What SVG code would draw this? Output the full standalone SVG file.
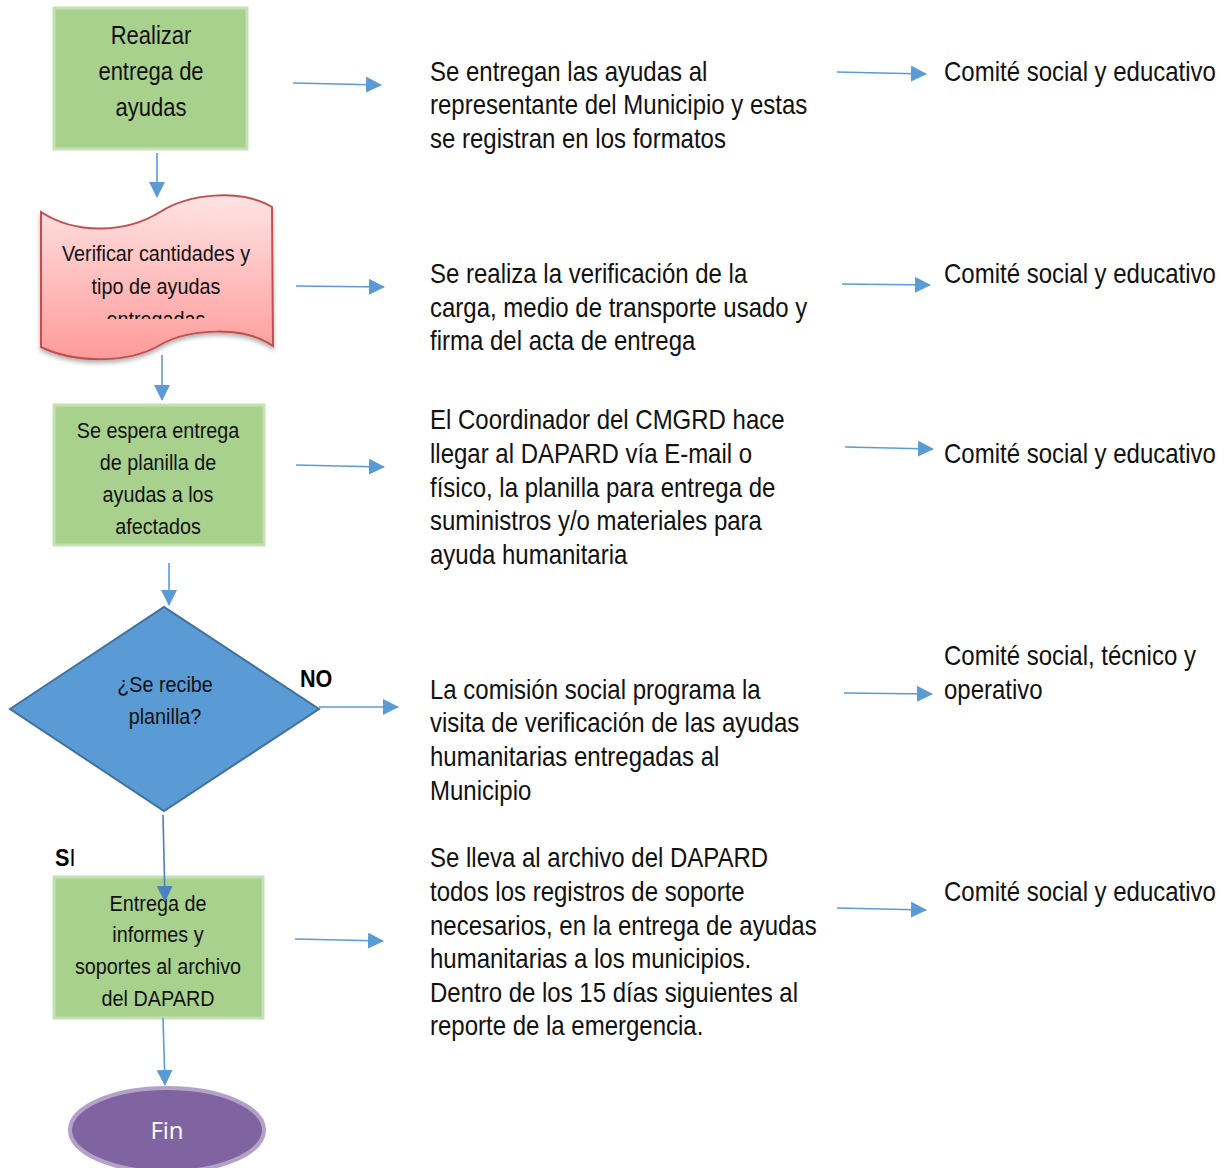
<svg xmlns="http://www.w3.org/2000/svg" width="1225" height="1168" viewBox="0 0 1225 1168">
  <style>
    .box { fill: #a9d18e; stroke: #c5e0b4; stroke-width: 3; }
    .lbl { font-family: "Liberation Sans", Arial, sans-serif; fill: #111; text-anchor: middle; }
    .desc { font-family: "Liberation Sans", Arial, sans-serif; font-size: 28px; fill: #111; }
    .conn { stroke: #5b9bd5; stroke-width: 1.6; fill: none; marker-end: url(#arrow); }
  </style>
  <defs>
    <marker id="arrow" viewBox="0 0 16 16" refX="15" refY="8" markerWidth="16" markerHeight="16" markerUnits="userSpaceOnUse" orient="auto">
      <path d="M0,0 L16,8 L0,16 Z" fill="#5b9bd5"/>
    </marker>
    <marker id="arrowDark" viewBox="0 0 16 16" refX="15" refY="8" markerWidth="16" markerHeight="16" markerUnits="userSpaceOnUse" orient="auto">
      <path d="M0,0 L16,8 L0,16 Z" fill="#4a7fc1"/>
    </marker>
    <linearGradient id="docFill" x1="0" y1="0" x2="0" y2="1">
      <stop offset="0" stop-color="#ffe3e3"/>
      <stop offset="1" stop-color="#ff9a9a"/>
    </linearGradient>
    <filter id="shadow" x="-10%" y="-10%" width="120%" height="130%">
      <feDropShadow dx="0" dy="3" stdDeviation="2" flood-color="#000" flood-opacity="0.3"/>
    </filter>
    <clipPath id="docClip">
      <rect x="40" y="225" width="232" height="94"/>
    </clipPath>
  </defs>

  <rect width="1225" height="1168" fill="#ffffff"/>

  <!-- flow nodes (labels use a condensed horizontal scale) -->
  <g id="n-realizar">
    <rect class="box" x="54" y="8" width="193" height="141"/>
    <g transform="translate(151 0) scale(0.86 1)">
      <text class="lbl" font-size="25.6" x="0" y="44">Realizar</text>
      <text class="lbl" font-size="25.6" x="0" y="80">entrega de</text>
      <text class="lbl" font-size="25.6" x="0" y="116">ayudas</text>
    </g>
  </g>

  <g id="n-verificar">
    <path d="M41,212 C78,236 128,232 160,212 C188,194 240,188 272,207 L273,346 C245,326 190,328 160,345 C130,363 76,364 41,347 Z" fill="url(#docFill)" stroke="#c0504d" stroke-width="2" filter="url(#shadow)"/>
    <g clip-path="url(#docClip)">
      <g transform="translate(156 0) scale(0.88 1)">
        <text class="lbl" font-size="22.5" x="0" y="261">Verificar cantidades y</text>
        <text class="lbl" font-size="22.5" x="0" y="294">tipo de ayudas</text>
        <text class="lbl" font-size="22.5" x="0" y="327">entregadas</text>
      </g>
    </g>
  </g>

  <g id="n-espera">
    <rect class="box" x="54" y="405" width="210" height="140"/>
    <g transform="translate(158 0) scale(0.87 1)">
      <text class="lbl" font-size="22.7" x="0" y="438">Se espera entrega</text>
      <text class="lbl" font-size="22.7" x="0" y="470">de planilla de</text>
      <text class="lbl" font-size="22.7" x="0" y="502">ayudas a los</text>
      <text class="lbl" font-size="22.7" x="0" y="534">afectados</text>
    </g>
  </g>

  <g id="n-decision">
    <polygon points="10,709 164,607 319,709 164,811" fill="#5b9bd5" stroke="#41719c" stroke-width="2"/>
    <g transform="translate(165 0) scale(0.9 1)">
      <text class="lbl" font-size="22" x="0" y="692">¿Se recibe</text>
      <text class="lbl" font-size="22" x="0" y="724">planilla?</text>
    </g>
  </g>

  <g id="n-entrega">
    <rect class="box" x="54" y="877" width="209" height="141"/>
    <g transform="translate(158 0) scale(0.88 1)">
      <text class="lbl" font-size="22.5" x="0" y="911">Entrega de</text>
      <text class="lbl" font-size="22.5" x="0" y="942">informes y</text>
      <text class="lbl" font-size="22.5" x="0" y="974">soportes al archivo</text>
      <text class="lbl" font-size="22.5" x="0" y="1006">del DAPARD</text>
    </g>
  </g>

  <g id="n-fin">
    <ellipse cx="167" cy="1130" rx="97" ry="42" fill="#8064a2" stroke="#b3a2c7" stroke-width="4"/>
    <text x="167" y="1139" font-family="'Open Sans', sans-serif" font-size="24" fill="#ffffff" text-anchor="middle">Fin</text>
  </g>

  <!-- descriptions -->
  <g id="d-1" transform="translate(430 0) scale(0.857 1)">
    <text class="desc" x="0" y="81">Se entregan las ayudas al</text>
    <text class="desc" x="0" y="114">representante del Municipio y estas</text>
    <text class="desc" x="0" y="148">se registran en los formatos</text>
  </g>
  <g id="d-2" transform="translate(430 0) scale(0.857 1)">
    <text class="desc" x="0" y="283">Se realiza la verificación de la</text>
    <text class="desc" x="0" y="317">carga, medio de transporte usado y</text>
    <text class="desc" x="0" y="350">firma del acta de entrega</text>
  </g>
  <g id="d-3" transform="translate(430 0) scale(0.857 1)">
    <text class="desc" x="0" y="429">El Coordinador del CMGRD hace</text>
    <text class="desc" x="0" y="463">llegar al DAPARD vía E-mail o</text>
    <text class="desc" x="0" y="497">físico, la planilla para entrega de</text>
    <text class="desc" x="0" y="530">suministros y/o materiales para</text>
    <text class="desc" x="0" y="564">ayuda humanitaria</text>
  </g>
  <g id="d-4" transform="translate(430 0) scale(0.857 1)">
    <text class="desc" x="0" y="699">La comisión social programa la</text>
    <text class="desc" x="0" y="732">visita de verificación de las ayudas</text>
    <text class="desc" x="0" y="766">humanitarias entregadas al</text>
    <text class="desc" x="0" y="800">Municipio</text>
  </g>
  <g id="d-5" transform="translate(430 0) scale(0.857 1)">
    <text class="desc" x="0" y="867">Se lleva al archivo del DAPARD</text>
    <text class="desc" x="0" y="901">todos los registros de soporte</text>
    <text class="desc" x="0" y="935">necesarios, en la entrega de ayudas</text>
    <text class="desc" x="0" y="968">humanitarias a los municipios.</text>
    <text class="desc" x="0" y="1002">Dentro de los 15 días siguientes al</text>
    <text class="desc" x="0" y="1035">reporte de la emergencia.</text>
  </g>

  <!-- responsible parties -->
  <g id="r-1" transform="translate(944 0) scale(0.857 1)"><text class="desc" x="0" y="81">Comité social y educativo</text></g>
  <g id="r-2" transform="translate(944 0) scale(0.857 1)"><text class="desc" x="0" y="283">Comité social y educativo</text></g>
  <g id="r-3" transform="translate(944 0) scale(0.857 1)"><text class="desc" x="0" y="463">Comité social y educativo</text></g>
  <g id="r-4" transform="translate(944 0) scale(0.857 1)">
    <text class="desc" x="0" y="665">Comité social, técnico y</text>
    <text class="desc" x="0" y="699">operativo</text>
  </g>
  <g id="r-5" transform="translate(944 0) scale(0.857 1)"><text class="desc" x="0" y="901">Comité social y educativo</text></g>

  <!-- branch labels -->
  <text transform="translate(300 0) scale(0.9 1)" x="0" y="687" font-family="'Liberation Sans', Arial, sans-serif" font-size="24" font-weight="bold" fill="#000">NO</text>
  <text transform="translate(55 0) scale(0.9 1)" x="0" y="866" font-family="'Liberation Sans', Arial, sans-serif" font-size="24" fill="#000"><tspan font-weight="bold">S</tspan>I</text>

  <!-- connectors -->
  <g id="connectors">
    <line class="conn" x1="157" y1="153" x2="157" y2="197"/>
    <line class="conn" x1="162" y1="355" x2="162" y2="400"/>
    <line class="conn" x1="169" y1="563" x2="169" y2="605"/>
    <line x1="163" y1="815" x2="165" y2="901" stroke="#4a7fc1" stroke-width="1.6" marker-end="url(#arrowDark)"/>
    <line class="conn" x1="163" y1="1018" x2="165" y2="1085"/>

    <line class="conn" x1="293" y1="83" x2="381" y2="85"/>
    <line class="conn" x1="296" y1="286" x2="384" y2="287"/>
    <line class="conn" x1="296" y1="465" x2="384" y2="467"/>
    <line class="conn" x1="319" y1="707" x2="398" y2="707"/>
    <line class="conn" x1="295" y1="939" x2="383" y2="941"/>

    <line class="conn" x1="837" y1="72" x2="926" y2="74"/>
    <line class="conn" x1="842" y1="284" x2="930" y2="285"/>
    <line class="conn" x1="845" y1="447" x2="933" y2="449"/>
    <line class="conn" x1="844" y1="693" x2="932" y2="694"/>
    <line class="conn" x1="837" y1="908" x2="926" y2="910"/>
  </g>
</svg>
